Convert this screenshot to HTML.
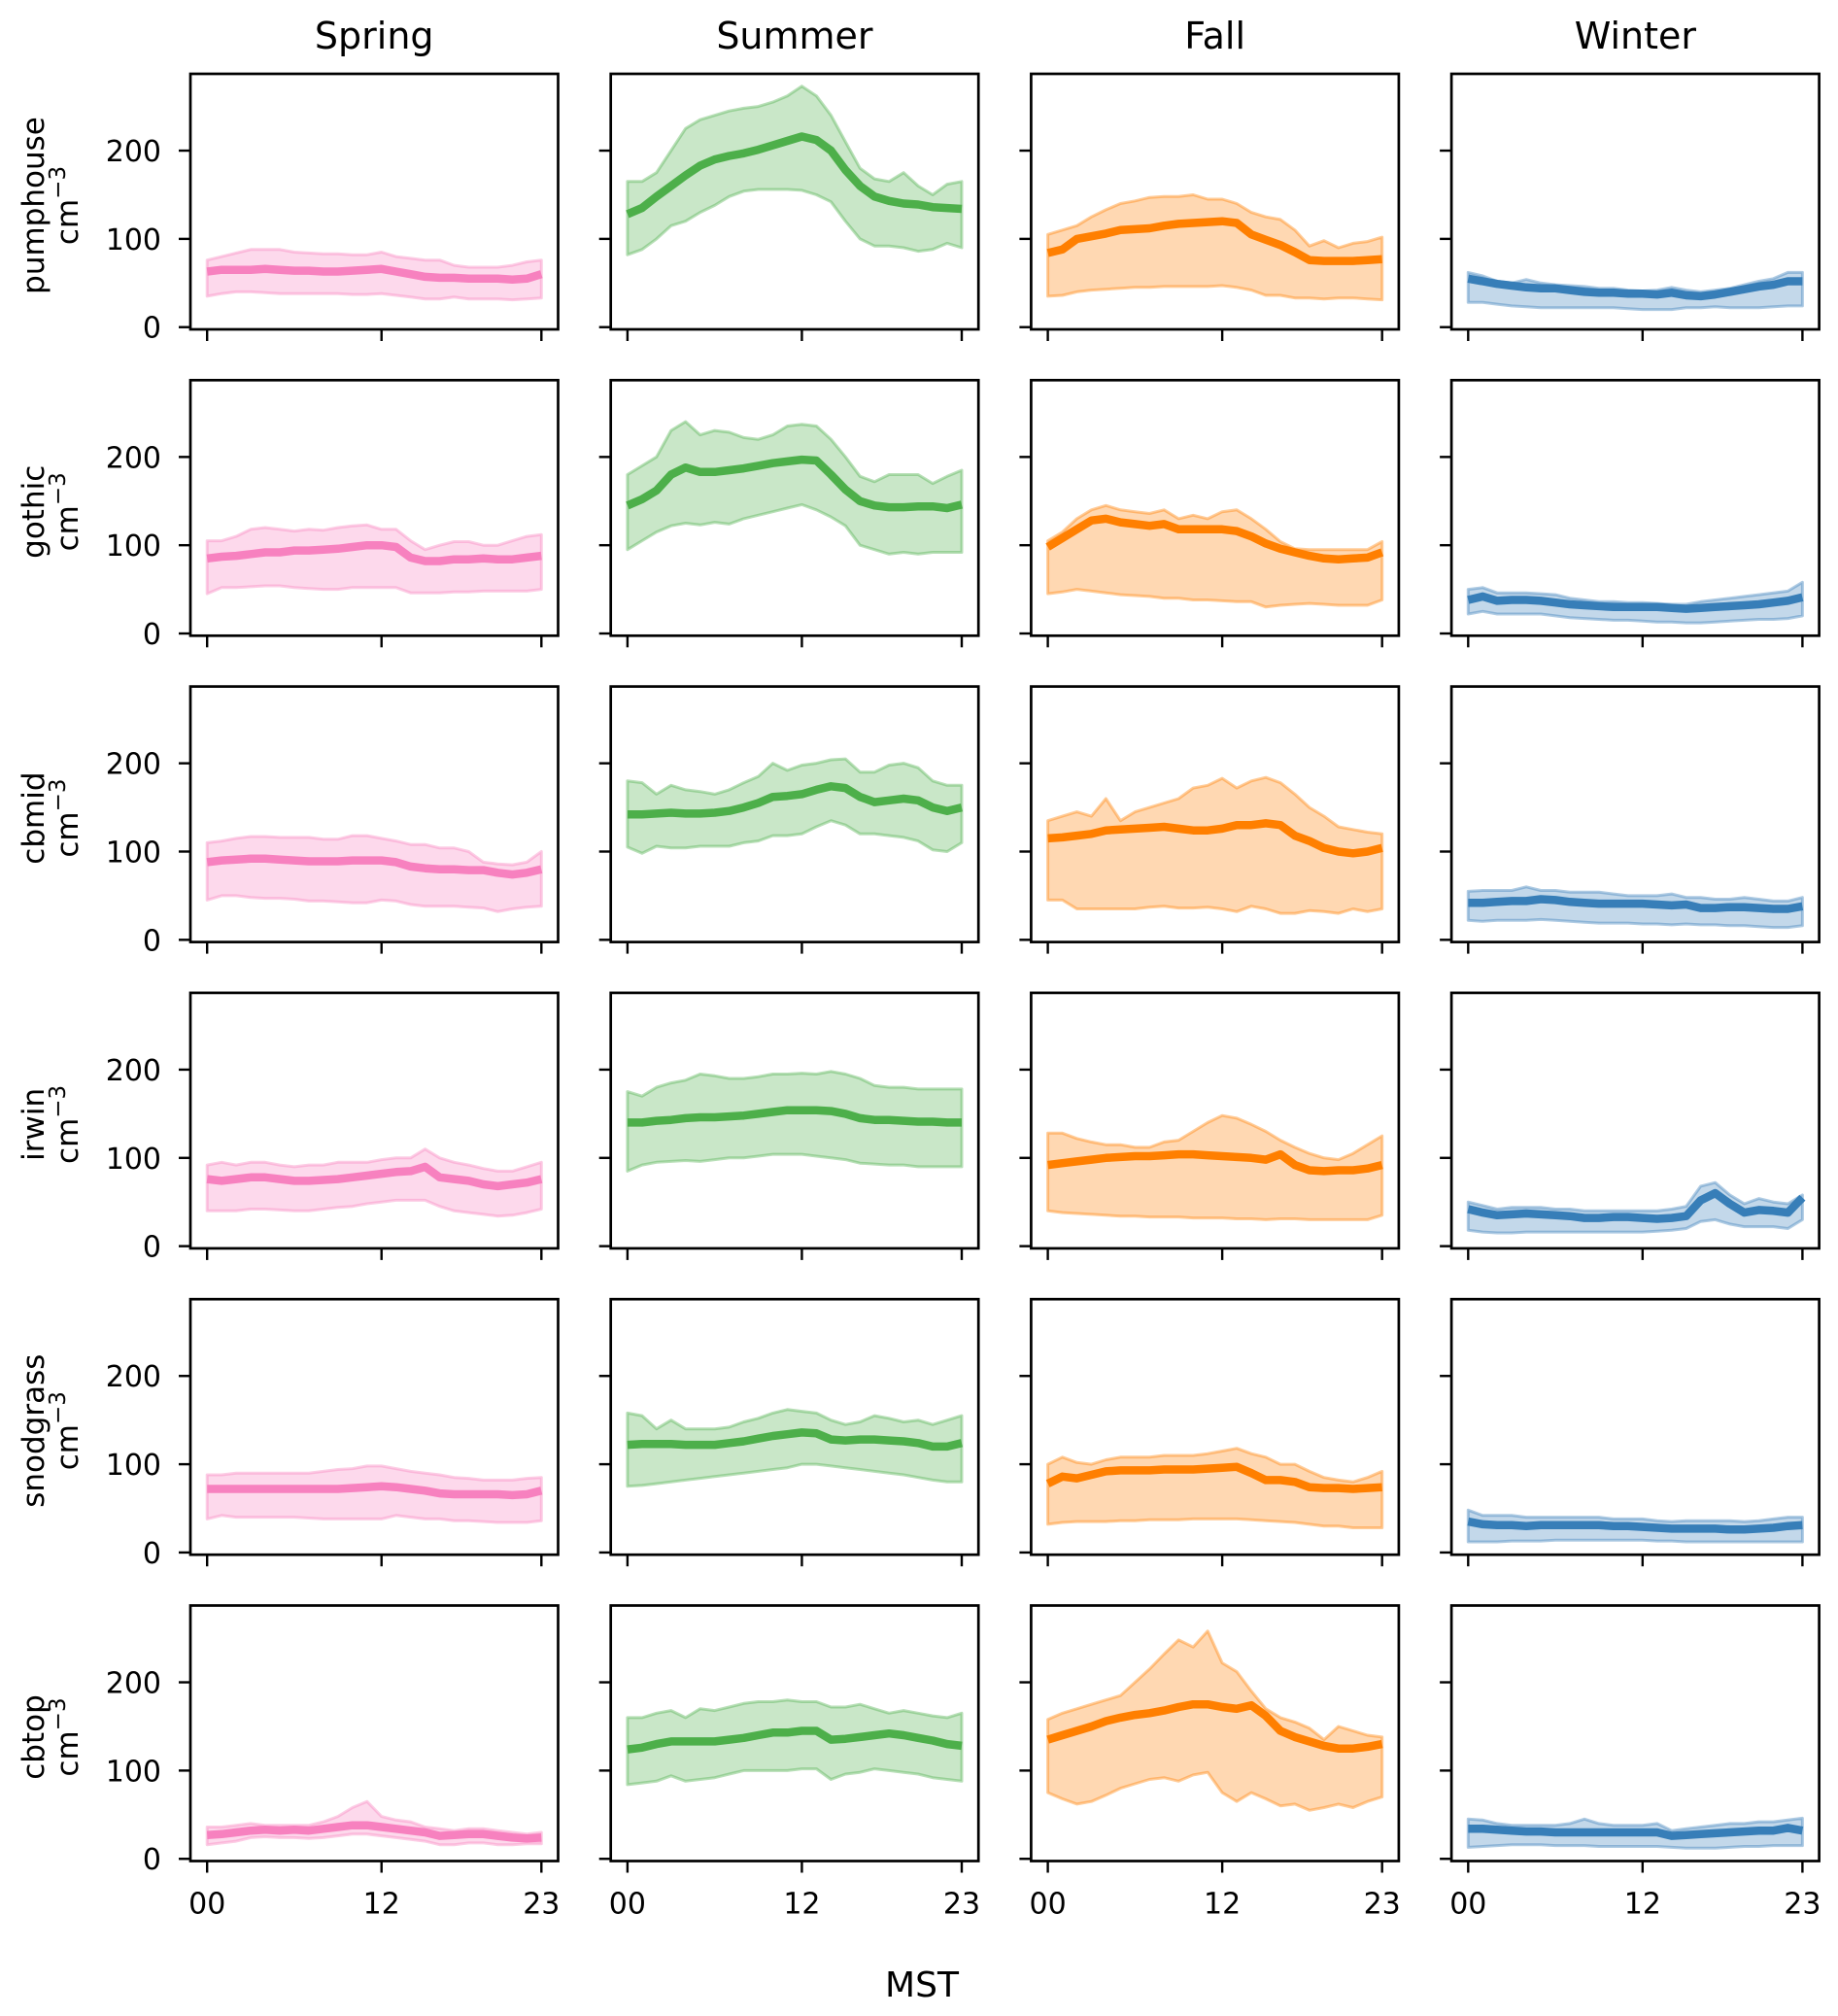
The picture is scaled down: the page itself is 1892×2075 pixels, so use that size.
<!DOCTYPE html>
<html><head><meta charset="utf-8">
<style>
html,body{margin:0;padding:0;background:#fff;}
svg{display:block;font-family:"DejaVu Sans","Liberation Sans",sans-serif;}
</style></head>
<body>
<svg id="chart" width="1892" height="2075" viewBox="0 0 1892 2075" xmlns="http://www.w3.org/2000/svg"></svg>
<script>
const seasons = ["Spring","Summer","Fall","Winter"];
const sites = ["pumphouse","gothic","cbmid","irwin","snodgrass","cbtop"];
const colors = ["#f781bf","#4daf4a","#ff7f00","#377eb8"];
const yTicks = [0,100,200];
const xTicks = [0,12,23];
const xTickLabels = ["00","12","23"];

const meanSpring = [
[63,65,65,65,66,65,64,64,63,63,64,65,66,63,60,57,56,56,55,55,55,54,55,60],
[85,87,88,90,92,92,94,94,95,96,98,100,100,98,86,82,82,84,84,85,84,84,86,88],
[88,90,91,92,92,91,90,89,89,89,90,90,90,88,83,81,80,80,79,79,76,74,76,80],
[76,74,76,78,78,76,74,74,75,76,78,80,82,84,85,90,78,76,74,70,68,70,72,76],
[72,72,72,72,72,72,72,72,72,72,73,74,75,74,72,70,67,66,66,66,66,65,66,70],
[27,28,30,32,33,32,33,32,34,36,38,38,36,34,32,30,26,27,28,28,26,24,23,24]];
const loSpring = [
[35,38,40,40,39,38,38,38,38,38,37,37,38,36,34,32,32,34,32,32,32,31,32,33],
[45,52,52,53,54,54,52,51,50,50,52,52,52,52,46,46,46,47,47,48,48,48,48,50],
[45,50,50,48,47,47,46,44,44,43,42,42,45,44,40,38,38,38,37,36,32,35,37,38],
[40,40,40,42,42,41,40,40,42,44,45,48,50,52,52,52,45,40,38,36,34,35,38,42],
[38,42,40,40,40,40,40,39,38,38,38,38,38,42,40,38,38,36,36,35,34,34,34,36],
[16,18,20,24,25,24,24,23,24,26,28,28,26,24,22,20,16,16,18,18,16,16,17,17]];
const hiSpring = [
[76,80,84,88,88,88,85,84,83,83,82,82,85,80,78,76,76,70,68,68,68,70,74,76],
[105,105,110,118,120,118,116,118,117,120,122,123,118,118,105,95,100,104,104,100,100,105,110,112],
[110,112,115,117,117,116,116,116,114,114,118,118,115,112,108,108,104,104,100,88,86,85,88,100],
[92,95,92,95,95,92,90,92,92,95,95,95,98,100,100,110,100,95,92,88,85,85,90,95],
[88,88,90,90,90,90,90,90,92,94,95,98,98,95,92,90,88,85,84,82,82,82,84,85],
[36,36,38,40,38,38,38,38,42,48,58,65,48,44,42,36,34,32,34,34,32,30,28,30]];

const meanSummer = [
[128,135,148,160,172,183,190,194,197,201,206,211,216,212,200,178,160,148,143,140,139,136,135,134],
[145,152,162,180,188,183,183,185,187,190,193,195,197,196,180,163,150,145,143,143,144,144,142,146],
[142,142,143,144,143,143,144,146,150,155,162,163,165,170,174,172,162,156,158,160,158,150,146,150],
[140,140,142,143,145,146,146,147,148,150,152,154,154,154,153,150,145,143,143,142,141,141,140,140],
[122,123,123,123,122,122,122,124,126,129,132,134,136,135,128,127,128,128,127,126,124,120,120,124],
[124,126,130,133,133,133,133,135,137,140,143,143,145,145,135,136,138,140,142,140,137,134,130,128]];
const loSummer = [
[82,88,100,115,120,130,138,148,154,156,156,156,155,150,142,120,100,92,92,90,86,88,95,90],
[95,105,115,122,125,123,126,124,130,134,138,142,146,140,132,122,100,95,90,92,90,92,92,92],
[105,98,106,104,104,106,106,106,110,112,118,118,120,128,135,130,120,120,118,116,112,102,100,110],
[85,92,95,96,97,96,98,100,100,102,104,104,104,102,100,98,94,93,92,92,90,90,90,90],
[75,76,78,80,82,84,86,88,90,92,94,96,100,100,98,96,94,92,90,88,85,82,80,80],
[84,86,88,94,88,90,92,96,100,100,100,100,102,102,90,96,98,102,100,98,96,92,90,88]];
const hiSummer = [
[165,165,175,200,225,235,240,245,248,250,255,262,273,262,240,210,180,168,165,175,160,150,162,165],
[180,190,200,230,240,225,230,228,222,220,225,235,237,235,220,200,178,172,180,180,180,170,178,185],
[180,178,165,175,170,168,165,170,178,185,200,192,198,200,204,205,190,190,198,200,195,180,175,175],
[175,170,180,185,188,195,193,190,190,192,195,195,196,195,198,195,190,182,180,180,178,178,178,178],
[158,155,140,150,140,140,140,142,148,152,158,162,160,158,150,145,148,155,152,148,150,145,150,155],
[160,160,165,168,160,170,168,172,176,178,178,180,178,178,172,172,175,170,165,168,165,162,160,165]];

const meanFall = [
[84,88,100,103,106,110,111,112,115,117,118,119,120,118,105,99,93,85,76,75,75,75,76,77],
[98,108,118,128,130,126,124,122,124,118,118,118,118,116,110,102,96,92,88,85,84,85,86,92],
[115,116,118,120,124,125,126,127,128,126,124,124,126,130,130,132,130,118,112,104,100,98,100,104],
[92,94,96,98,100,101,102,102,103,104,104,103,102,101,100,98,104,92,86,85,86,86,88,92],
[78,86,84,88,92,93,93,93,94,94,94,95,96,97,90,82,82,80,74,73,73,72,73,74],
[135,140,145,150,156,160,163,165,168,172,175,175,172,170,174,162,145,138,133,128,125,125,127,130]];
const loFall = [
[35,36,40,42,43,44,45,45,46,46,46,46,47,45,42,36,36,33,33,32,33,33,32,31],
[45,47,50,48,46,44,43,42,40,40,38,38,37,36,36,30,32,33,34,33,32,32,32,38],
[45,45,35,35,35,35,35,37,38,36,36,37,35,32,38,35,30,30,33,32,30,35,32,35],
[40,38,37,36,35,34,34,33,33,33,32,32,32,31,31,30,31,31,30,30,30,30,30,35],
[32,34,35,35,35,36,36,37,37,37,38,38,38,38,37,36,35,34,32,30,30,28,28,28],
[75,68,62,65,72,80,85,90,92,88,95,98,75,65,75,68,60,62,55,58,62,58,65,70]];
const hiFall = [
[105,110,115,125,133,140,143,147,148,148,150,145,145,140,130,125,122,110,92,98,90,95,97,102],
[105,115,130,140,145,140,138,136,140,130,134,130,138,140,130,118,104,96,95,95,95,95,95,104],
[135,140,145,140,160,135,145,150,155,160,172,175,183,172,180,184,178,165,150,140,128,125,122,120],
[128,128,122,118,115,115,112,112,118,120,130,140,148,145,138,130,120,112,105,100,98,105,115,125],
[100,108,102,100,105,108,108,108,110,110,110,112,115,118,112,108,100,100,92,85,82,80,85,92],
[158,165,170,175,180,185,200,215,232,248,240,258,222,212,190,170,160,155,148,135,150,145,140,138]];

const meanWinter = [
[55,52,49,47,45,44,44,42,40,39,39,38,38,37,39,36,35,37,40,43,46,48,52,52],
[38,42,37,38,38,37,35,33,32,31,30,30,30,30,29,28,29,30,31,32,33,35,37,41],
[42,42,43,44,44,46,45,43,42,41,41,41,41,40,39,40,36,36,37,37,36,35,35,38],
[42,38,35,36,37,36,35,34,32,32,33,33,32,31,32,34,52,60,48,38,41,40,38,55],
[35,32,31,31,30,31,31,31,31,31,30,30,29,28,27,27,27,27,26,26,27,28,30,31],
[34,34,33,32,31,31,30,30,30,30,30,30,30,30,26,27,28,29,30,31,32,32,35,32]];
const loWinter = [
[28,28,26,24,23,22,22,22,22,22,22,21,20,20,20,22,22,23,22,22,22,23,24,24],
[22,25,22,22,22,22,20,18,17,16,15,15,14,13,13,12,12,13,14,15,16,16,17,20],
[22,21,22,22,22,23,22,21,20,19,19,19,18,18,17,18,17,17,16,16,15,14,14,16],
[18,16,15,15,16,16,16,16,16,16,16,16,16,17,18,20,28,30,25,22,22,22,20,30],
[12,12,12,13,13,13,14,14,14,14,14,14,14,13,13,12,12,12,12,12,12,12,12,12],
[13,14,15,16,16,16,15,15,15,14,14,14,14,14,13,12,12,12,13,14,14,15,15,15]];
const hiWinter = [
[62,58,52,50,54,50,48,47,46,44,44,42,41,42,45,42,40,42,44,48,52,55,62,62],
[50,52,46,46,46,45,44,40,38,36,36,35,35,34,33,33,36,38,40,42,44,46,48,58],
[55,56,56,56,60,56,56,54,54,54,52,50,50,50,52,48,48,46,46,48,46,44,44,48],
[50,46,42,44,44,44,42,42,40,40,40,40,40,40,42,45,68,72,58,48,54,50,48,58],
[48,42,42,42,40,40,40,40,40,40,38,38,38,36,35,36,36,36,36,35,36,38,40,40],
[45,44,40,38,38,38,38,40,45,40,38,38,38,40,32,34,36,38,40,40,42,42,44,46]];

const means = [meanSpring, meanSummer, meanFall, meanWinter];
const los = [loSpring, loSummer, loFall, loWinter];
const his = [hiSpring, hiSummer, hiFall, hiWinter];

const NS = "http://www.w3.org/2000/svg";
const svg = document.getElementById("chart");
const COL0 = 196, COLSTEP = 432.7, PW = 378.5;
const ROW0 = 76, ROWSTEP = 315.3, PH = 263;
const YMIN = -2.5, YMAX = 287, XMIN = -1.15, XMAX = 24.15;
const TICKFS = 30;

function mk(tag, attrs, parent) {
  const e = document.createElementNS(NS, tag);
  for (const k in attrs) e.setAttribute(k, attrs[k]);
  (parent || svg).appendChild(e);
  return e;
}
function xScale(c, h) { return COL0 + c * COLSTEP + (h - XMIN) / (XMAX - XMIN) * PW; }
function yScale(r, v) { return ROW0 + r * ROWSTEP + (YMAX - v) / (YMAX - YMIN) * PH; }

seasons.forEach((s, c) => {
  const t = mk("text", {x: COL0 + c * COLSTEP + PW / 2, y: 50, "text-anchor": "middle", "font-size": 38, fill: "#000"});
  
  
  t.textContent = s;
});

sites.forEach((site, r) => {
  const cy = ROW0 + r * ROWSTEP + PH / 2 + 4;
  const yl = mk("text", {x: 0, y: 0, transform: `translate(45,${cy}) rotate(-90)`, "text-anchor": "middle", "font-size": 31});
  
  
  yl.textContent = site;
  const yu = mk("text", {x: 0, y: 0, transform: `translate(80,${cy}) rotate(-90)`, "text-anchor": "middle", "font-size": 31});
  
  
  yu.innerHTML = 'cm<tspan dy="-13" font-size="23">−3</tspan>';

  seasons.forEach((season, c) => {
    const g = mk("g", {});
    
    
    const left = COL0 + c * COLSTEP, top = ROW0 + r * ROWSTEP;
    const m = means[c][r], lo = los[c][r], hi = his[c][r];
    let pts = [];
    hi.forEach((v, h) => pts.push(xScale(c, h).toFixed(1) + "," + yScale(r, v).toFixed(1)));
    for (let h = lo.length - 1; h >= 0; h--) pts.push(xScale(c, h).toFixed(1) + "," + yScale(r, lo[h]).toFixed(1));
    const band = mk("polygon", {points: pts.join(" "), fill: colors[c], "fill-opacity": 0.3, stroke: colors[c], "stroke-opacity": 0.4, "stroke-width": 3, "stroke-linejoin": "round"}, g);
    
    
    const lp = m.map((v, h) => xScale(c, h).toFixed(1) + "," + yScale(r, v).toFixed(1)).join(" ");
    const line = mk("polyline", {points: lp, fill: "none", stroke: colors[c], "stroke-width": 8.5, "stroke-linejoin": "round"}, g);
    
    
    const fr = mk("rect", {x: left, y: top, width: PW, height: PH, fill: "none", stroke: "#000", "stroke-width": 2.7}, g);
    
    
    yTicks.forEach(v => {
      const yy = yScale(r, v);
      const tk = mk("line", {x1: left - 12, x2: left, y1: yy, y2: yy, stroke: "#000", "stroke-width": 2.4}, g);
      
      
      if (c === 0) {
        const tl = mk("text", {x: left - 30, y: yy + 11, "text-anchor": "end", "font-size": TICKFS}, g);
        
        
        tl.textContent = v;
      }
    });
    xTicks.forEach((h, i) => {
      const xx = xScale(c, h);
      const tk = mk("line", {x1: xx, x2: xx, y1: top + PH, y2: top + PH + 12, stroke: "#000", "stroke-width": 2.4}, g);
      
      
      if (r === sites.length - 1) {
        const tl = mk("text", {x: xx, y: top + PH + 54, "text-anchor": "middle", "font-size": TICKFS}, g);
        
        
        tl.textContent = xTickLabels[i];
      }
    });
  });
});

const xt = mk("text", {x: 949, y: 2055, "text-anchor": "middle", "font-size": 36});


xt.textContent = "MST";
</script>
</body></html>
